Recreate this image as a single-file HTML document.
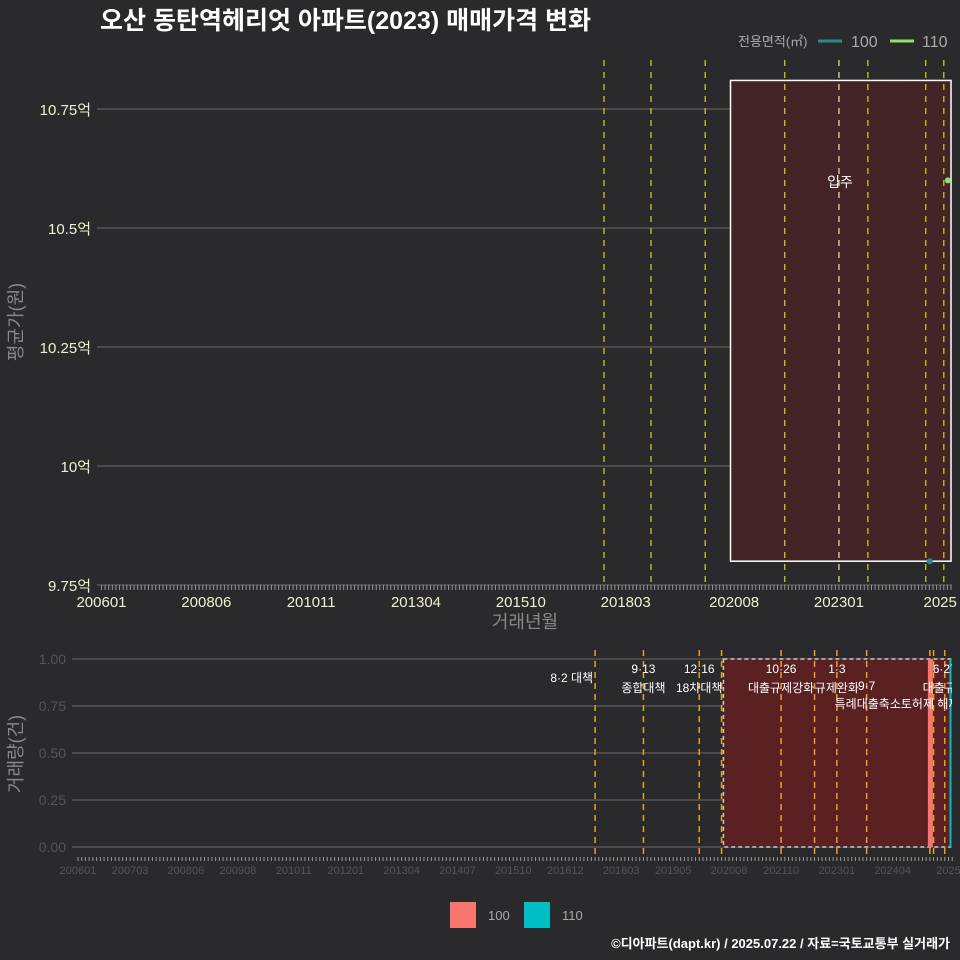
<!DOCTYPE html>
<html><head><meta charset="utf-8"><style>
body{margin:0;background:#2a2a2c;}
svg{display:block;font-family:"Liberation Sans","Noto Sans CJK KR",sans-serif;}
</style></head><body>
<svg id="c" width="960" height="960" viewBox="0 0 960 960">
<rect width="960" height="960" fill="#2a2a2c"/>
<text x="100" y="29" font-size="25" font-weight="bold" fill="#ffffff">오산 동탄역헤리엇 아파트(2023) 매매가격 변화</text>
<g>
<text x="738" y="46" font-size="13" fill="#aaaaaa">전용면적(㎡)</text>
<line x1="818" y1="41" x2="842" y2="41" stroke="#2a8a8c" stroke-width="3"/>
<text x="851" y="47" font-size="16" fill="#aaaaaa">100</text>
<line x1="890" y1="41" x2="914" y2="41" stroke="#90e070" stroke-width="3"/>
<text x="922" y="47" font-size="16" fill="#aaaaaa">110</text>
</g>
<g id="top"></g>
<g id="bot"></g>
<g>
<rect x="450" y="902" width="26" height="26" fill="#f8766d"/>
<text x="488" y="920" font-size="13" fill="#aaaaaa">100</text>
<rect x="524" y="902" width="26" height="26" fill="#00bfc4"/>
<text x="562" y="920" font-size="13" fill="#aaaaaa">110</text>
</g>
<text x="950" y="948" text-anchor="end" font-size="13" font-weight="bold" fill="#ffffff">©디아파트(dapt.kr) / 2025.07.22 / 자료=국토교통부 실거래가</text>
</svg>
<script>
const topTickLabels=["200601","200806","201011","201304","201510","201803","202008","202301","2025"];
const topTickMonths=[0,29,58,87,116,145,175,204,232];
const priceTicks=[9.75,10,10.25,10.5,10.75];
const priceTickLabels=["9.75억","10억","10.25억","10.5억","10.75억"];
const series100Months=[228];const series100Price=[9.8];
const series110Months=[233];const series110Price=[10.6];
const policyMonths=[139,152,167,189,204,212,228,233];
const moveInStart=174, moveInEnd=235, moveInLow=9.8, moveInHigh=10.81;
const botTickLabels=["200601","200703","200806","200908","201011","201201","201304","201407","201510","201612","201803","201905","202008","202110","202301","202404","2025"];
const botTickMonths=[0,14,29,43,58,72,87,102,117,131,146,160,175,189,204,219,234];
const volTicks=[0,0.25,0.5,0.75,1];
const volTickLabels=["0.00","0.25","0.50","0.75","1.00"];
const vol100Months=[229];const vol100Values=[1];
const vol110Months=[234];const vol110Values=[1];
const botPolicyMonths=[139,152,167,173,189,198,204,212,229,230,233];
const policyDates=["8·2","9·13","12·16","10·26","1·3","9·7","6·27"];
const policyNames=["대책","종합대책","18차대책","대출규제강화","규제완화","특례대출축소","대출규제"];
const policyLabelMonths=[139,152,167,189,204,212,233];

const NS="http://www.w3.org/2000/svg";
function mk(p,t,a,txt){const e=document.createElementNS(NS,t);for(const k in a)e.setAttribute(k,a[k]);if(txt!==undefined)e.textContent=txt;p.appendChild(e);return e;}
const T=document.getElementById('top');
const tx=m=>101.5+3.615*m, ty=v=>585-(v-9.75)*476;
const tL=97,tR=952;
priceTicks.forEach((v,i)=>{
 const g=mk(T,'line',{x1:tL,x2:tR,y1:ty(v),y2:ty(v),stroke:'#6a6a6a','stroke-width':1});
 
 const t=mk(T,'text',{x:91,y:ty(v)+6,'text-anchor':'end','font-size':15,fill:'#f0f0d0'},priceTickLabels[i]);
 
});
const r=mk(T,'rect',{x:tx(moveInStart),y:ty(moveInHigh),width:tx(moveInEnd)-tx(moveInStart),height:ty(moveInLow)-ty(moveInHigh),fill:'#452428',stroke:'#ffffff','stroke-width':1.5});

const mt=mk(T,'text',{x:840,y:187,'text-anchor':'middle','font-size':14,fill:'#ffffff'},'입주');

policyMonths.forEach(m=>{
 const l=mk(T,'line',{x1:tx(m),x2:tx(m),y1:60,y2:585,stroke:m==204?'#dddd99':'#c8c820','stroke-width':1.3,'stroke-dasharray':'6,6'});
 
});
for(let m=0;m<=235;m++){const k=mk(T,'line',{x1:tx(m),x2:tx(m),y1:585,y2:590,stroke:'#999','stroke-width':1});}
topTickLabels.forEach((s,i)=>{const t=mk(T,'text',{x:tx(topTickMonths[i]),y:607,'text-anchor':'middle','font-size':15,fill:'#f0f0d0'},s);});
series100Months.forEach((m,i)=>{const c=mk(T,'circle',{cx:tx(m)+4,cy:ty(series100Price[i]),r:3,fill:'#2a8a8c'});});
series110Months.forEach((m,i)=>{const c=mk(T,'circle',{cx:tx(m)+4,cy:ty(series110Price[i]),r:3,fill:'#90e070'});});
let at=mk(T,'text',{x:525,y:628,'text-anchor':'middle','font-size':18,fill:'#888'},'거래년월');
at=mk(T,'text',{x:22,y:322,'text-anchor':'middle','font-size':18,fill:'#888',transform:'rotate(-90 22 322)'},'평균가(원)');
const B=document.getElementById('bot');
const bx=m=>78+3.72*m, by=v=>847-v*188;
const bL=72,bR=952;
volTicks.forEach((v,i)=>{
 const g=mk(B,'line',{x1:bL,x2:bR,y1:by(v),y2:by(v),stroke:'#6a6a6a','stroke-width':1});
 
 const t=mk(B,'text',{x:66,y:by(v)+5,'text-anchor':'end','font-size':14,fill:'#555'},volTickLabels[i]);
 
});
const br=mk(B,'rect',{x:bx(173.5),y:by(1),width:bx(234.5)-bx(173.5),height:by(0)-by(1),fill:'#5a2022',stroke:'#cccccc','stroke-width':1.5,'stroke-dasharray':'4,3'});

botPolicyMonths.forEach(m=>{const l=mk(B,'line',{x1:bx(m),x2:bx(m),y1:650,y2:858,stroke:'#e8a020','stroke-width':1.5,'stroke-dasharray':'6,5'});});
vol100Months.forEach((m,i)=>{const b=mk(B,'rect',{x:bx(m)-2,y:by(vol100Values[i]),width:5,height:by(0)-by(vol100Values[i]),fill:'#f8766d'});});
vol110Months.forEach((m,i)=>{const b=mk(B,'rect',{x:bx(m)+1,y:by(vol110Values[i]),width:2,height:by(0)-by(vol110Values[i]),fill:'#00bfc4'});});
const clip=mk(B,'clipPath',{id:'bc'});mk(clip,'rect',{x:bL,y:640,width:bR-bL,height:230});
const lg=mk(B,'g',{'clip-path':'url(#bc)'});
policyLabelMonths.forEach((m,i)=>{
 const x=bx(m);
 let d,t;
 if(i==0){
  t=mk(lg,'text',{x:x-2,y:682,'text-anchor':'end','font-size':12,fill:'#ffffff'},policyDates[0]+' '+policyNames[0]);
 } else if(i==5){
  d=mk(lg,'text',{x:x,y:690,'text-anchor':'middle','font-size':12,fill:'#ffffff'},policyDates[i]);
  t=mk(lg,'text',{x:x-32,y:708,'text-anchor':'start','font-size':12,fill:'#ffffff'},policyNames[i]+'토허제 해제');
 } else {
  d=mk(lg,'text',{x:x,y:673,'text-anchor':'middle','font-size':12,fill:'#ffffff'},policyDates[i]);
  t=mk(lg,'text',{x:x,y:692,'text-anchor':'middle','font-size':12,fill:'#ffffff'},policyNames[i]);
 }
 if(d){}
 
});
for(let m=0;m<=235;m++){const k=mk(B,'line',{x1:bx(m),x2:bx(m),y1:857,y2:861,stroke:'#999','stroke-width':1});}
botTickLabels.forEach((s,i)=>{const t=mk(B,'text',{x:bx(botTickMonths[i]),y:874,'text-anchor':'middle','font-size':11,fill:'#555'},s);});
at=mk(B,'text',{x:22,y:754,'text-anchor':'middle','font-size':18,fill:'#888',transform:'rotate(-90 22 754)'},'거래량(건)');
</script>
</body></html>
